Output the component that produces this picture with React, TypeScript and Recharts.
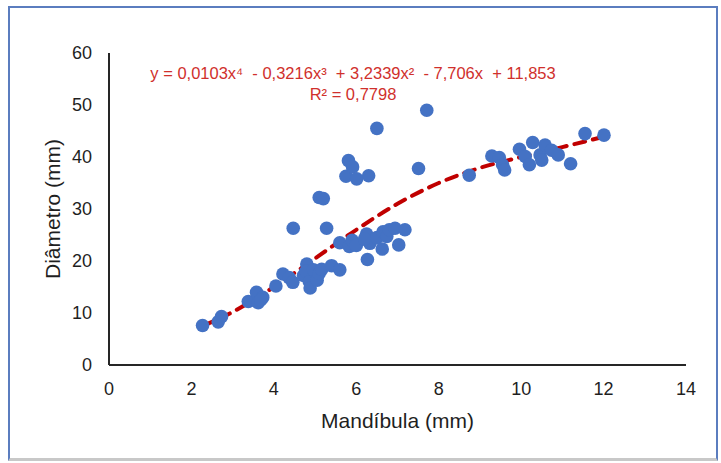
import React from 'react';
import {
  ComposedChart,
  Scatter,
  Line,
  XAxis,
  YAxis,
  Label,
} from 'recharts';

// medições: mandíbula (mm) x diâmetro (mm)
const mandibula = [
  2.27, 2.65, 2.73, 3.38, 3.58, 3.62, 3.73, 3.68, 4.05, 4.22, 4.37, 4.46, 4.47, 4.72,
  4.8, 4.78, 4.86, 4.88, 4.96, 5.05, 5.1, 5.16, 5.4, 5.6, 5.1, 5.2, 5.28, 5.6,
  5.75, 5.81, 5.91, 6.01, 5.83, 5.9, 6.0, 6.25, 6.3, 6.33, 6.27, 6.2, 6.5, 6.5,
  6.65, 6.63, 6.74, 6.8, 6.94, 7.03, 7.18, 7.51, 7.71, 8.74, 9.29, 9.47, 9.55, 9.6,
  9.96, 10.1, 10.2, 10.28, 10.46, 10.5, 10.58, 10.74, 10.9, 11.2, 11.55, 12.01,
];
const diametro = [
  7.6, 8.3, 9.3, 12.2, 14.0, 12.0, 13.0, 12.5, 15.2, 17.5, 16.8, 15.9, 26.3, 17.2,
  19.4, 18.0, 16.0, 14.8, 18.3, 16.3, 17.6, 18.4, 19.1, 18.3, 32.2, 32.0, 26.3, 23.5,
  36.3, 39.3, 38.1, 35.8, 22.8, 24.0, 23.0, 25.2, 36.4, 23.4, 20.3, 24.2, 45.5, 24.5,
  25.6, 22.3, 24.7, 26.0, 26.3, 23.1, 26.0, 37.8, 49.0, 36.5, 40.2, 39.9, 38.5, 37.5,
  41.5, 40.1, 38.5, 42.8, 40.4, 39.4, 42.3, 41.3, 40.4, 38.7, 44.5, 44.2,
];

// linha de tendência polinomial
const trendX = [2.27, 3, 4, 5, 6, 7, 8, 9, 10, 11, 12];
const trendY = [7.5, 10.2, 15.0, 20.5, 26.0, 31.0, 35.0, 37.9, 40.0, 41.9, 43.9];

const xTicks = [0, 2, 4, 6, 8, 10, 12, 14];
const yTicks = [0, 10, 20, 30, 40, 50, 60];

const points = mandibula.map((x, i) => ({ x, y: diametro[i] }));
const trend = trendX.map((x, i) => ({ x, y: trendY[i] }));

const font = '"Liberation Sans", Arial, sans-serif';
const red = '#D0302C';
const ink = '#1f1f1f';

const Dot = (props: any) => (
  <circle cx={props.cx} cy={props.cy} r={6.8} fill="#4472C4" />
);

export default function App() {
  return (
    <div
      style={{
        position: 'fixed',
        left: 0,
        top: 0,
        width: 721,
        height: 463,
        background: '#fff',
        fontFamily: font,
        overflow: 'hidden',
      }}
    >
      <div style={{ position: 'absolute', left: 0, top: 0 }}>
        <ComposedChart
          width={721}
          height={463}
          margin={{ top: 53, right: 35, bottom: 68, left: 49 }}
        >
          <XAxis
            type="number"
            dataKey="x"
            domain={[0, 14]}
            ticks={xTicks}
            tickLine={false}
            tickSize={0}
            tickMargin={17}
            axisLine={{ stroke: '#262626', strokeWidth: 2 }}
            tick={{ fill: ink, fontSize: 18, fontFamily: font }}
            height={30}
          >
            <Label
              value="Mandíbula (mm)"
              position="bottom"
              offset={18}
              style={{ fill: ink, fontSize: 21, fontFamily: font }}
            />
          </XAxis>
          <YAxis
            type="number"
            domain={[0, 60]}
            ticks={yTicks}
            tickLine={false}
            tickSize={0}
            tickMargin={17}
            axisLine={{ stroke: '#262626', strokeWidth: 2 }}
            tick={{ fill: ink, fontSize: 18, fontFamily: font }}
            width={60}
          >
            <Label
              value="Diâmetro (mm)"
              angle={-90}
              position="insideLeft"
              offset={4}
              style={{ fill: ink, fontSize: 21, fontFamily: font, textAnchor: 'middle' }}
            />
          </YAxis>
          <Scatter data={points} dataKey="y" shape={Dot} isAnimationActive={false} />
          <Line
            data={trend}
            dataKey="y"
            type="monotone"
            stroke="#C00000"
            strokeWidth={4}
            strokeDasharray="11 8"
            strokeLinecap="round"
            dot={false}
            activeDot={false}
            isAnimationActive={false}
          />
        </ComposedChart>
      </div>
      <div
        style={{
          position: 'absolute',
          left: 0,
          width: 706,
          top: 63,
          textAlign: 'center',
          color: red,
          fontSize: 16.5,
          lineHeight: '21px',
          whiteSpace: 'pre',
        }}
      >
        {'y = 0,0103x⁴  - 0,3216x³  + 3,2339x²  - 7,706x  + 11,853\nR² = 0,7798'}
      </div>
      <div
        style={{
          position: 'absolute',
          left: 8,
          top: 6,
          width: 706,
          height: 450,
          zIndex: 5,
          pointerEvents: 'none',
          borderLeft: '2px solid #5B7DBF',
          borderTop: '2px solid #5B7DBF',
          borderRight: '2px solid #5B7DBF',
          borderBottom: '3px solid #C8C8C8',
        }}
      />
    </div>
  );
}
